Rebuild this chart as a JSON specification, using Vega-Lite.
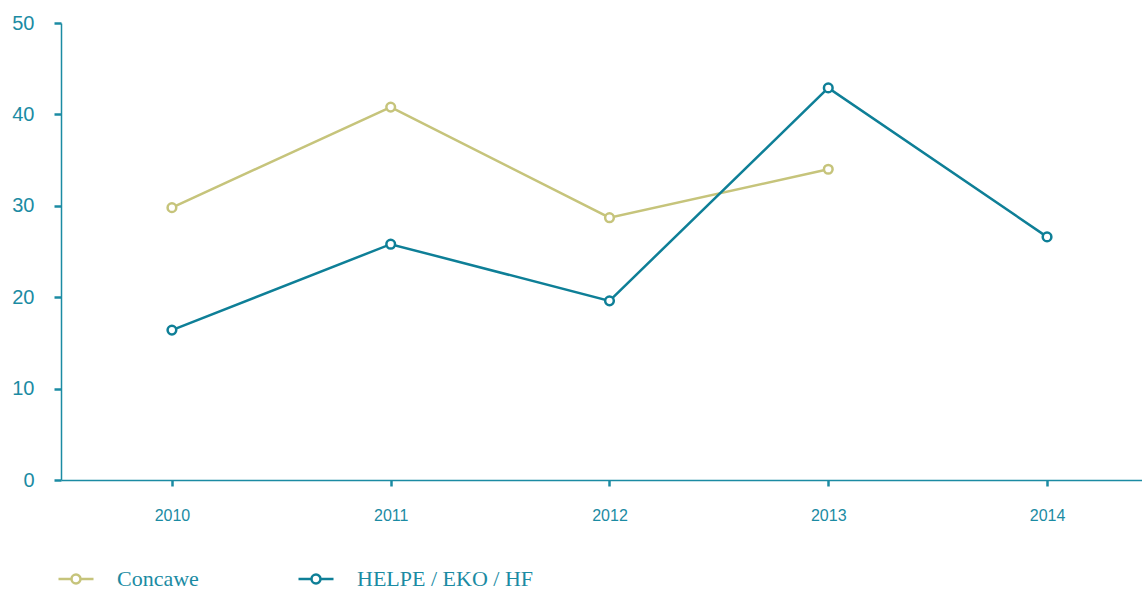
{
  "$schema": "https://vega.github.io/schema/vega-lite/v6.json",
  "width": 1081,
  "height": 457,
  "autosize": {"type": "none"},
  "padding": {"left": 61, "top": 23, "right": 0, "bottom": 110},
  "background": "white",
  "config": {
    "view": {"stroke": null},
    "axis": {"grid": false, "domainColor": "#1b8ba3", "tickColor": "#1b8ba3", "labelColor": "#1b8ba3", "labelFont": "Liberation Sans", "domainWidth": 1.5, "tickWidth": 2.5}
  },
  "data": {
    "values": [
      {"year": 2010, "series": "Concawe", "value": 29.8},
      {"year": 2011, "series": "Concawe", "value": 40.8},
      {"year": 2012, "series": "Concawe", "value": 28.7},
      {"year": 2013, "series": "Concawe", "value": 34.0},
      {"year": 2010, "series": "HELPE / EKO / HF", "value": 16.4},
      {"year": 2011, "series": "HELPE / EKO / HF", "value": 25.8},
      {"year": 2012, "series": "HELPE / EKO / HF", "value": 19.6},
      {"year": 2013, "series": "HELPE / EKO / HF", "value": 42.9},
      {"year": 2014, "series": "HELPE / EKO / HF", "value": 26.6}
    ]
  },
  "encoding": {
    "x": {
      "field": "year", "type": "quantitative",
      "scale": {"domain": [2009.493, 2014.434], "nice": false, "zero": false},
      "axis": {"title": null, "values": [2010, 2011, 2012, 2013, 2014], "format": "d", "labelFontSize": 16, "tickSize": 6, "labelPadding": 21, "domainWidth": 1.5}
    },
    "y": {
      "field": "value", "type": "quantitative",
      "scale": {"domain": [0, 50], "nice": false},
      "axis": {"title": null, "values": [0, 10, 20, 30, 40, 50], "labelFontSize": 20, "tickSize": 7, "labelPadding": 20}
    },
    "color": {
      "field": "series", "type": "nominal",
      "scale": {"domain": ["Concawe", "HELPE / EKO / HF"], "range": ["#c6c47b", "#0e7f97"]},
      "legend": {
        "title": null, "orient": "none", "legendX": -4, "legendY": 537, "direction": "horizontal", "columns": 2,
        "symbolType": "M-1,0L-0.257,0M0.257,0L1,0M0.257,0A0.257,0.257,0,1,1,-0.257,0A0.257,0.257,0,1,1,0.257,0",
        "symbolSize": 1225, "symbolStrokeWidth": 2.5, "symbolFillColor": "white",
        "labelFont": "Liberation Serif", "labelFontSize": 22, "labelColor": "#1b8ba3", "labelOffset": 22, "labelLimit": 400, "columnPadding": 94
      }
    }
  },
  "layer": [
    {"mark": {"type": "line", "strokeWidth": 2.5}},
    {"mark": {"type": "point", "filled": false, "fill": "white", "fillOpacity": 1, "strokeWidth": 2.5, "size": 75, "opacity": 1}}
  ]
}
